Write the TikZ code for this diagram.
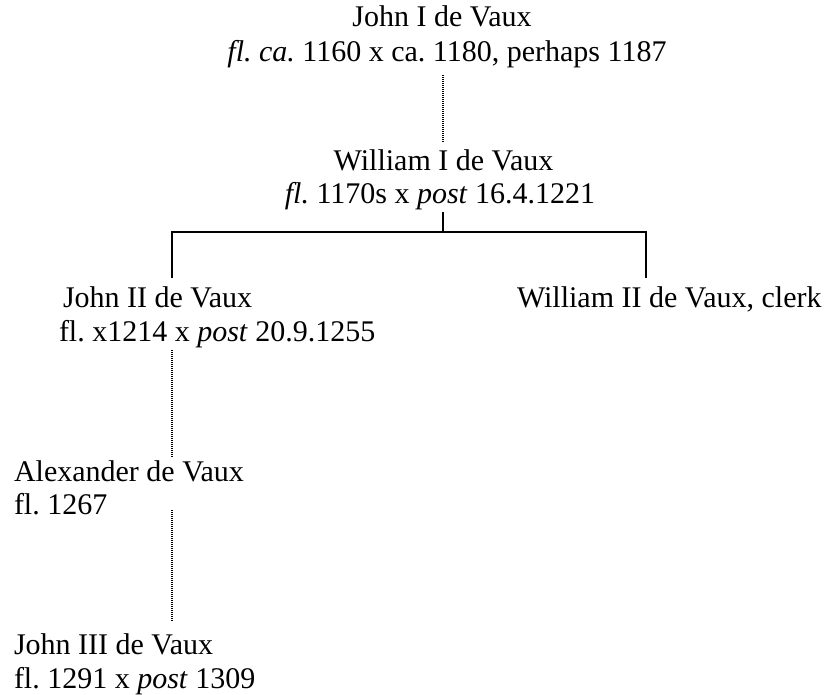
\documentclass[tikz,border=0pt]{standalone}
\usepackage{fontspec}
\setmainfont{Liberation Serif}
\begin{document}
\begin{tikzpicture}[x=1pt,y=-1pt,
  txt/.style={inner sep=0pt,outer sep=0pt,font=\fontsize{30}{34.5}\selectfont\frenchspacing},
  mid/.style={txt,anchor=base},
  lft/.style={txt,anchor=base west},
  tree/.style={line width=1.2pt,black},
  dots/.style={line width=1.1pt,black,dash pattern=on 1pt off 1pt}]
\useasboundingbox[fill=white] (0,0) rectangle (827,694);
% people
\node[mid] (j1a) at (442,26) {John I de Vaux};
\node[mid] (j1b) at (447,61.5) {\textit{fl. ca.} 1160 x ca. 1180, perhaps 1187};
\node[mid] (w1a) at (443.5,170) {William I de Vaux};
\node[mid] (w1b) at (440,203.5) {\textit{fl.} 1170s x \textit{post} 16.4.1221};
\node[lft] (j2a) at (63,307) {John II de Vaux};
\node[lft] (j2b) at (59,341.5) {fl. x1214 x \textit{post} 20.9.1255};
\node[lft] (w2) at (517,307) {William II de Vaux, clerk};
\node[lft] (ala) at (14,481) {Alexander de Vaux};
\node[lft] (alb) at (14,514) {fl. 1267};
\node[lft] (j3a) at (14,654) {John III de Vaux};
\node[lft] (j3b) at (14,688) {fl. 1291 x \textit{post} 1309};
% coordinates of the bracket
\coordinate (tick) at (443,232);
\coordinate (barL) at (172,232);
\coordinate (barR) at (646,232);
% connectors
\draw[dots,shorten <=7pt,shorten >=7pt] (tick |- j1b.south) -- (tick |- w1a.north);
\draw[tree,shorten <=2pt] (tick |- w1b.south) -- (tick);
\draw[tree,shorten <=8.5pt,shorten >=8.5pt] (barL |- j2a.north) -- (barL) -- (barR) -- (barR |- w2.north);
\draw[dots,shorten <=2pt,shorten >=4pt] (barL |- j2b.south) -- (barL |- ala.north);
\draw[dots,shorten <=-4pt,shorten >=13pt] (barL |- alb.base) -- (barL |- j3a.north);
\end{tikzpicture}
\end{document}
